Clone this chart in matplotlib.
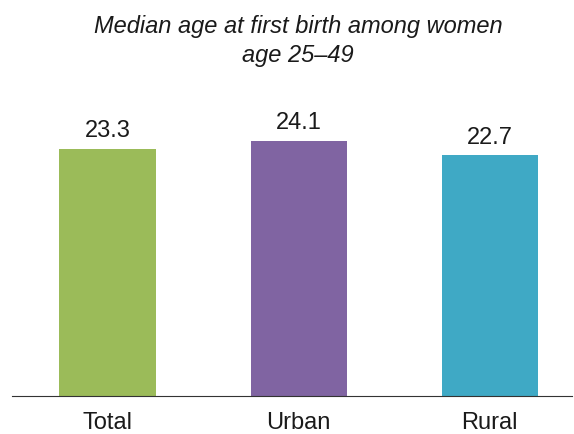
import matplotlib
matplotlib.use("Agg")
import matplotlib.pyplot as plt

categories = ["Total", "Urban", "Rural"]
values = [23.3, 24.1, 22.7]
colors = ["#9BBB59", "#8064A2", "#3FA9C5"]
title_lines = ["Median age at first birth among women", "age 25\u201349"]

plt.rcParams['font.family'] = ['Liberation Sans', 'DejaVu Sans']

fig = plt.figure(figsize=(5.74, 4.35), dpi=100)
ax = fig.add_axes([12/574, 38/435, 560/574, 318/435])

x = range(len(categories))
bars = ax.bar(x, values, width=0.503, color=colors)
for b, v in zip(bars, values):
    ax.text(b.get_x() + b.get_width()/2, v + 1.2, f"{v:.1f}",
            ha="center", va="baseline", fontsize=17, color="#1a1a1a")

ax.set_xlim(-0.5, 2.43)
ax.set_ylim(0, 30)
ax.set_xticks(list(x))
ax.set_xticklabels(categories, fontsize=17, color="#1a1a1a")
ax.tick_params(axis="x", length=0, pad=11)
ax.set_yticks([])
for s in ["top", "right", "left"]:
    ax.spines[s].set_visible(False)
ax.spines["bottom"].set_color("#333333")
ax.spines["bottom"].set_linewidth(0.8)

fig.text(298/574, 1 - 33/435, title_lines[0], ha="center", va="baseline",
         fontsize=17, style="italic", color="#1a1a1a")
fig.text(298/574, 1 - 62/435, title_lines[1], ha="center", va="baseline",
         fontsize=17, style="italic", color="#1a1a1a")

fig.savefig("out.png", dpi=100)
